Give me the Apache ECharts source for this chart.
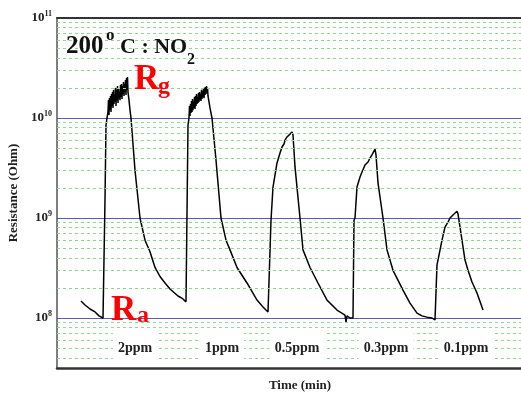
<!DOCTYPE html>
<html>
<head>
<meta charset="utf-8">
<script src="https://cdn.jsdelivr.net/npm/echarts@6/dist/echarts.min.js"></script>
<style>
  html, body { margin: 0; padding: 0; background: #ffffff; }
  #chart { width: 521px; height: 394px; }
</style>
</head>
<body>
<div id="chart"></div>
<script>
// Sensor response at 200 °C to NO2 pulses (time in min, resistance in Ohm)
const time = [
  12, 14, 16.5, 19, 21, 23, 23.5, 24, 24.5, 25,
  25.5, 25.75, 26, 26.25, 26.5, 26.75, 27, 27.25, 27.5, 27.75, 28, 28.25, 28.5, 28.75, 29, 29.25, 29.5, 29.75,
  30, 30.25, 30.5, 30.75, 31, 31.25, 31.5, 31.75, 32, 32.25, 32.5, 32.75, 33, 33.25, 33.5, 33.75, 34, 34.25,
  34.5, 34.75, 35, 35.25, 35.5, 36, 36.5,
  37, 39, 41.5, 44, 46.5, 49, 51.5, 54, 56.5, 60.5, 63, 64.5, 65,
  65.5, 66, 66.25, 66.5, 66.75, 67, 67.25, 67.5, 67.75, 68, 68.25, 68.5, 68.75, 69, 69.25, 69.5, 69.75,
  70, 70.25, 70.5, 70.75, 71, 71.25, 71.5, 71.75, 72, 72.25, 72.5, 72.75, 73, 73.25, 73.5, 73.75,
  74, 74.25, 74.5, 74.75, 75, 75.25, 75.5, 76, 76.5,
  77.5, 79.5, 82, 84.5, 86.5, 90, 95, 100, 103, 105.5, 106.5,
  107, 108, 110, 111.5, 112.5, 113.5, 114, 115, 115.5, 116.5, 117, 117.5, 118,
  119, 121.5, 123, 126.5, 130.5, 135, 140, 144, 144.5, 145, 146.5, 148,
  148.5, 149, 150, 151.5, 152.5, 154, 155.5, 156.5, 157.5, 158.5, 159, 159.5,
  160.5, 163, 165, 168, 173, 176.5, 180, 182.5, 185, 187.5, 189,
  189.5, 190, 190.5, 192.5, 194, 195.5, 196.5, 198, 199, 200, 200.5,
  201.5, 204, 205.5, 207.5, 210, 213
];
const resistance = [
  1.48e8, 1.35e8, 1.23e8, 1.15e8, 1.05e8, 1.0e8, 1.0e8, 1.51e9, 8.5e9, 1.0e10,
  1.15e10, 1.51e10, 1.07e10, 1.58e10, 1.20e10, 1.66e10, 1.15e10, 1.74e10, 1.32e10, 1.82e10, 1.26e10, 1.91e10, 1.38e10, 1.70e10, 1.45e10, 2.00e10, 1.32e10, 1.91e10,
  1.51e10, 2.09e10, 1.41e10, 1.95e10, 1.58e10, 1.82e10, 1.51e10, 2.14e10, 1.62e10, 2.19e10, 1.55e10, 2.09e10, 1.74e10, 2.29e10, 1.66e10, 2.19e10, 1.82e10, 2.40e10,
  1.70e10, 2.51e10, 1.91e10, 2.57e10, 1.82e10, 1.51e10, 1.20e10,
  1.0e10, 3.0e9, 1.0e9, 6.0e8, 4.6e8, 3.2e8, 2.6e8, 2.24e8, 1.95e8, 1.66e8, 1.55e8, 1.45e8, 1.45e8,
  8.5e9, 1.0e10, 1.32e10, 1.05e10, 1.38e10, 1.12e10, 1.48e10, 1.15e10, 1.55e10, 1.20e10, 1.45e10, 1.26e10, 1.62e10, 1.23e10, 1.66e10, 1.32e10, 1.74e10,
  1.38e10, 1.62e10, 1.41e10, 1.78e10, 1.45e10, 1.82e10, 1.51e10, 1.74e10, 1.48e10, 1.91e10, 1.55e10, 1.86e10, 1.62e10, 1.95e10, 1.58e10, 2.00e10,
  1.70e10, 2.04e10, 1.74e10, 2.09e10, 1.82e10, 2.00e10, 1.66e10, 1.45e10, 1.26e10,
  1.0e10, 3.8e9, 1.0e9, 6.0e8, 4.8e8, 3.2e8, 2.24e8, 1.51e8, 1.29e8, 1.15e8, 1.12e8,
  9.5e8, 2.04e9, 3.55e9, 4.47e9, 5.13e9, 5.5e9, 6.0e9, 6.46e9, 6.17e9, 6.9e9, 6.6e9, 7.24e9, 6.76e9,
  3.24e9, 1.0e9, 4.8e8, 3.2e8, 2.24e8, 1.51e8, 1.2e8, 1.07e8, 9.1e7, 1.05e8, 1.0e8, 1.0e8,
  9.5e8, 1.0e9, 2.04e9, 2.57e9, 2.88e9, 3.39e9, 3.63e9, 3.98e9, 4.27e9, 4.47e9, 4.9e9, 4.27e9,
  2.24e9, 1.0e9, 4.8e8, 3.0e8, 1.9e8, 1.41e8, 1.12e8, 1.05e8, 1.02e8, 1.0e8, 9.55e7,
  1.0e8, 3.4e8, 3.8e8, 6.0e8, 8.1e8, 9.1e8, 1.0e9, 1.07e9, 1.12e9, 1.17e9, 1.1e9,
  8.1e8, 3.8e8, 3.0e8, 2.29e8, 1.78e8, 1.2e8
];

// Gas concentrations of the five pulses
const concentrations = ['2ppm', '1ppm', '0.5ppm', '0.3ppm', '0.1ppm'];
const concentrationX = [135, 222, 297, 386, 466];

// Labelled decades on the resistance axis
const decadeTicks = [1e8, 1e9, 1e10, 1e11];
const decadeExponents = ['8', '9', '10', '11'];

// Minor grid values (2..9 x 10^n)
const minorMantissas = [2, 3, 4, 5, 6, 7, 8, 9];
const minorDecades = [1e7, 1e8, 1e9, 1e10];

const yMin = 3.1623e7, yMax = 1e11;
const minorValues = [];
minorDecades.forEach(d => minorMantissas.forEach(m => {
  const v = m * d;
  if (v > yMin && v < yMax) minorValues.push(v);
}));

const serif = '"Liberation Serif", "DejaVu Serif", serif';

const chart = echarts.init(document.getElementById('chart'), null, { renderer: 'canvas' });

const textEl = (text, x, y, size, color) => ({
  type: 'text', z: 100,
  style: {
    text, x, y, fill: color,
    font: 'bold ' + size + 'px ' + serif,
    align: 'left', verticalAlign: 'middle'
  }
});

const graphics = [
  textEl('200', 66, 47, 25, '#111'),
  textEl('o', 106, 36, 17, '#111'),
  textEl('C : NO', 120, 47, 22, '#111'),
  textEl('2', 187, 60, 16, '#111'),
  textEl('R', 134, 80, 35, '#ff0000'),
  textEl('g', 158, 87, 24, '#ff0000'),
  textEl('R', 111, 311, 35, '#ff0000'),
  textEl('a', 137, 316, 24, '#ff0000')
];
concentrations.forEach((c, i) => {
  graphics.push({
    type: 'text', z: 100,
    style: {
      text: c, x: concentrationX[i], y: 348,
      font: 'bold 14px ' + serif, fill: '#222',
      align: 'center', verticalAlign: 'middle',
      backgroundColor: '#ffffff', padding: [8, 5, 8, 5]
    }
  });
});

chart.setOption({
  backgroundColor: '#ffffff',
  animation: false,
  grid: { left: 57, top: 18, width: 486, height: 350, outerBoundsMode: 'none', containLabel: false },
  xAxis: [{
    type: 'value', min: 0, max: 243,
    name: 'Time (min)', nameLocation: 'middle', nameGap: 11,
    nameTextStyle: { fontFamily: serif, fontWeight: 'bold', fontSize: 13, color: '#222' },
    axisLine: { show: true, onZero: false, lineStyle: { color: '#333', width: 2.5 } },
    axisTick: { show: false }, axisLabel: { show: false }, splitLine: { show: false }
  }, {
    type: 'value', position: 'top', min: 0, max: 1,
    axisLine: { show: true, onZero: false, lineStyle: { color: '#333', width: 2 } },
    axisTick: { show: false }, axisLabel: { show: false }, splitLine: { show: false }
  }],
  yAxis: {
    type: 'log', logBase: 10, min: yMin, max: yMax,
    name: 'Resistance (Ohm)', nameLocation: 'middle', nameGap: 37, nameRotate: 90,
    nameTextStyle: { fontFamily: serif, fontWeight: 'bold', fontSize: 13, color: '#222' },
    axisLine: { show: true, lineStyle: { color: '#555', width: 1.5 } },
    axisTick: { show: false },
    axisLabel: {
      margin: 5,
      formatter: v => {
        const i = decadeTicks.findIndex(d => Math.abs(d - v) / d < 1e-6);
        return i < 0 ? '' : '{b|10}{s|' + decadeExponents[i] + '}';
      },
      rich: {
        b: { fontFamily: serif, fontWeight: 'bold', fontSize: 13, color: '#222' },
        s: { fontFamily: serif, fontWeight: 'bold', fontSize: 8, color: '#222', verticalAlign: 'top', padding: [0, 0, 9, 0] }
      }
    },
    splitLine: { show: true, lineStyle: { color: '#5c5cb0', width: 1 } }
  },
  series: [{
    type: 'line', z: 1, silent: true, data: [],
    markLine: {
      silent: true, symbol: 'none', animation: false,
      label: { show: false },
      lineStyle: { color: '#8fd68f', width: 1, type: [3, 3] },
      data: minorValues.map(v => ({ yAxis: v }))
    }
  }, {
    type: 'line', z: 3,
    data: time.map((t, i) => [t, resistance[i]]),
    showSymbol: false, symbol: 'none',
    lineStyle: { color: '#000', width: 1.5 }
  }],
  graphic: graphics
});
</script>
</body>
</html>
